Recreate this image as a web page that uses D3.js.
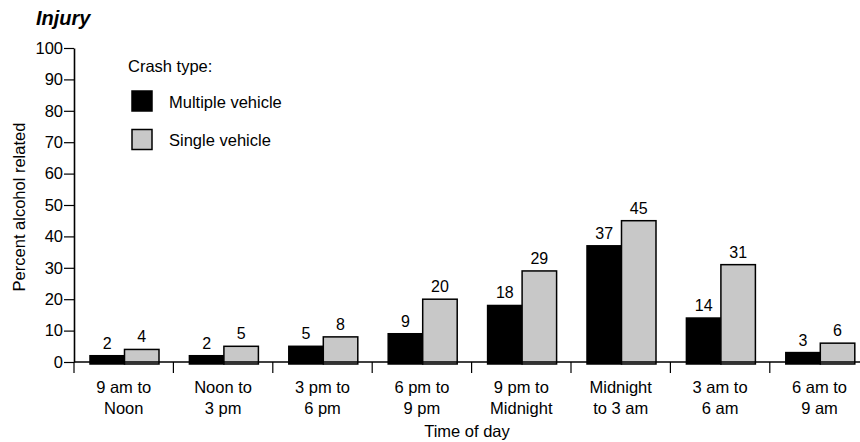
<!DOCTYPE html>
<html>
<head>
<meta charset="utf-8">
<script src="https://cdn.jsdelivr.net/npm/d3@7"></script>
<style>
  body { margin: 0; background: #fff; }
  svg { font-family: "Liberation Sans", Arial, sans-serif; }
</style>
</head>
<body>
<svg id="chart" width="860" height="442"></svg>
<script>
'use strict'
// time slots, two lines per label
const slots = [
  ['9 am to', 'Noon'],
  ['Noon to', '3 pm'],
  ['3 pm to', '6 pm'],
  ['6 pm to', '9 pm'],
  ['9 pm to', 'Midnight'],
  ['Midnight', 'to 3 am'],
  ['3 am to', '6 am'],
  ['6 am to', '9 am']
]
const multiple = [2, 2, 5, 9, 18, 37, 14, 3]
const single = [4, 5, 8, 20, 29, 45, 31, 6]
const seriesNames = ['Multiple vehicle', 'Single vehicle']
const seriesFill = ['#000000', '#c8c8c8']
const yTicks = [0, 10, 20, 30, 40, 50, 60, 70, 80, 90, 100]

const svg = d3.select('#chart')
const padL = 74, padT = 48, baseY = 362, catW = 99.4
const keys = slots.map(d => d.join(' '))

const x0 = d3.scaleBand()
  .domain(keys)
  .range([padL, padL + catW * keys.length])
const x1 = d3.scaleBand()
  .domain([0, 1])
  .range([16, 85])
const y = d3.scaleLinear()
  .domain([0, 100])
  .range([baseY, padT])

// title
svg.append('text')
  .attr('x', 36).attr('y', 25)
  .style('font-size', '20px').style('font-weight', 'bold').style('font-style', 'italic')
  .text('Injury')

// y axis
const yAxis = svg.append('g')
  .attr('transform', 'translate(' + padL + ',0)')
  .call(d3.axisLeft(y).tickValues(yTicks).tickSize(10).tickPadding(1).tickSizeOuter(0))
yAxis.select('.domain').attr('stroke', '#000').attr('stroke-width', 1.6)
yAxis.selectAll('.tick line').attr('stroke-width', 1.2)
yAxis.selectAll('.tick text').style('font-size', '16.5px').attr('fill', '#000')

svg.append('text')
  .attr('transform', 'translate(25,' + ((padT + baseY) / 2 + 2) + ') rotate(-90)')
  .attr('text-anchor', 'middle')
  .style('font-size', '16.5px')
  .text('Percent alcohol related')

// bars
const groups = svg.append('g').selectAll('g')
  .data(keys)
  .enter().append('g')
  .attr('transform', d => 'translate(' + x0(d) + ',0)')

groups.selectAll('rect')
  .data((d, i) => [multiple[i], single[i]])
  .enter().append('rect')
  .attr('x', (d, j) => x1(j))
  .attr('y', d => y(d))
  .attr('width', x1.bandwidth())
  .attr('height', d => y(0) - y(d) + 2)
  .attr('fill', (d, j) => seriesFill[j])
  .attr('stroke', '#000')
  .attr('stroke-width', 1.5)

groups.selectAll('text.val')
  .data((d, i) => [multiple[i], single[i]])
  .enter().append('text')
  .attr('class', 'val')
  .attr('x', (d, j) => x1(j) + x1.bandwidth() / 2)
  .attr('y', d => y(d) - 7)
  .attr('text-anchor', 'middle')
  .style('font-size', '16px')
  .text(d => d)

// x axis line and category separators
svg.append('line')
  .attr('x1', padL).attr('x2', 860)
  .attr('y1', y(0)).attr('y2', y(0))
  .attr('stroke', '#000').attr('stroke-width', 1.6)

svg.append('g').selectAll('line')
  .data(keys)
  .enter().append('line')
  .attr('x1', d => x0(d)).attr('x2', d => x0(d))
  .attr('y1', y(0)).attr('y2', y(0) + 11)
  .attr('stroke', '#000').attr('stroke-width', 1.2)

const labels = svg.append('g').selectAll('text')
  .data(slots)
  .enter().append('text')
  .attr('text-anchor', 'middle')
  .style('font-size', '16.5px')
labels.selectAll('tspan')
  .data(d => d)
  .enter().append('tspan')
  .attr('x', function() { return x0(d3.select(this.parentNode).datum().join(' ')) + x0.bandwidth() / 2 })
  .attr('y', (d, k) => 393 + k * 21)
  .text(d => d)

svg.append('text')
  .attr('x', 467).attr('y', 437)
  .attr('text-anchor', 'middle')
  .style('font-size', '16.5px')
  .text('Time of day')

// legend
svg.append('text')
  .attr('x', 128).attr('y', 72)
  .style('font-size', '16.5px')
  .text('Crash type:')

const legend = svg.append('g').selectAll('g')
  .data(seriesNames)
  .enter().append('g')
  .attr('transform', (d, i) => 'translate(132,' + (91 + i * 38.5) + ')')
legend.append('rect')
  .attr('width', 20).attr('height', 20)
  .attr('fill', (d, i) => seriesFill[i])
  .attr('stroke', '#000').attr('stroke-width', 1.5)
legend.append('text')
  .attr('x', 37).attr('y', 16.5)
  .style('font-size', '16.5px')
  .text(d => d)
</script>
</body>
</html>
